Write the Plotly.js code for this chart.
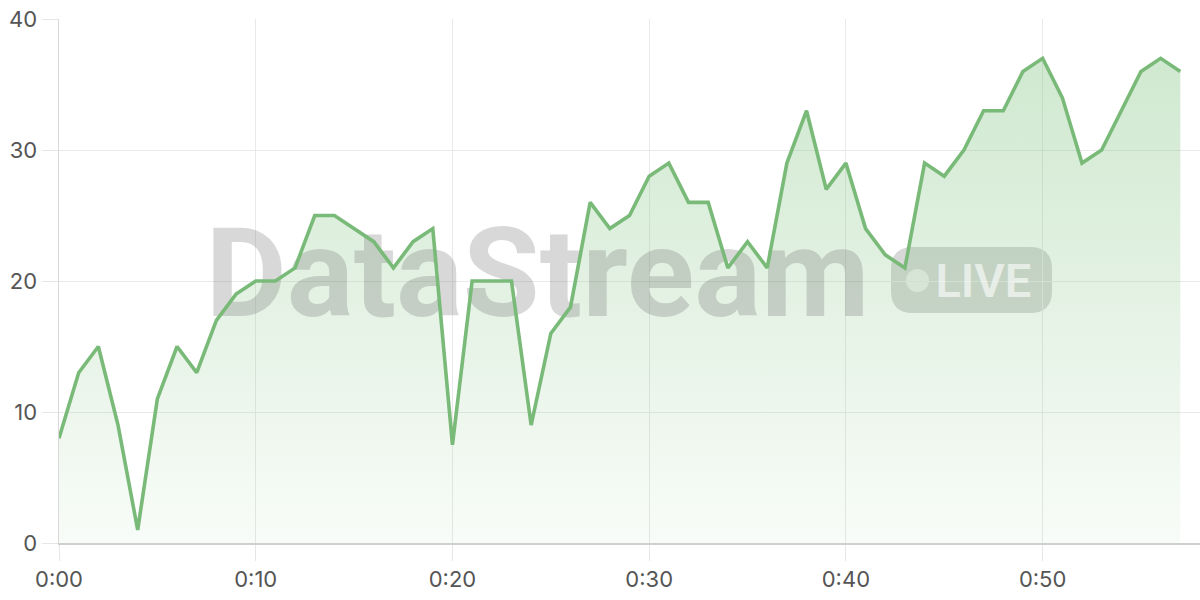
<!DOCTYPE html>
<html><head><meta charset="utf-8">
<script src="https://cdn.plot.ly/plotly-3.0.1.min.js"></script>
<style>html,body{margin:0;padding:0;background:#fff}#chart{width:1200px;height:600px}</style>
</head><body><div id="chart"></div>
<script>
const seconds = [0,1,2,3,4,5,6,7,8,9,10,11,12,13,14,15,16,17,18,19,20,21,22,23,24,25,26,27,28,29,30,31,32,33,34,35,36,37,38,39,40,41,42,43,44,45,46,47,48,49,50,51,52,53,54,55,56,57];
const values = [8,13,15,9,1,11,15,13,17,19,20,20,21,25,25,24,23,21,23,24,7.5,20,20,20,9,16,18,26,24,25,28,29,26,26,21,23,21,29,33,27,29,24,22,21,29,28,30,33,33,36,37,34,29,30,33,36,37,36];
const tickVals = [0,10,20,30,40,50];
const tickText = ["0:00","0:10","0:20","0:30","0:40","0:50"];
const yTicks = [0,10,20,30,40];

// pixel helpers for decoration placement (plot area: x 59..1200, y 19..543)
const PX = p => (p - 59) / 1141;
const PY = p => (543 - p) / 524;
function roundRect(x0, y0, x1, y1, r) {
  const rx = r / 1141, ry = r / 524;
  const a = PX(x0), b = PX(x1), t = PY(y0), u = PY(y1);
  return `M ${a+rx},${t} L ${b-rx},${t} Q ${b},${t} ${b},${t-ry} L ${b},${u+ry} Q ${b},${u} ${b-rx},${u} L ${a+rx},${u} Q ${a},${u} ${a},${u+ry} L ${a},${t-ry} Q ${a},${t} ${a+rx},${t} Z`;
}

const fillTrace = {
  x: seconds, y: values, type: 'scatter', mode: 'none',
  fill: 'tozeroy',
  fillcolor: 'rgba(120,190,120,0.2)',
  fillgradient: {type: 'vertical', colorscale: [[0,'rgba(120,190,120,0.05)'],[1,'rgba(120,190,120,0.35)']]},
  hoverinfo: 'skip'
};
const watermark = {
  x: [7.45], y: [19.75], type: 'scatter', mode: 'text', text: ['DataStream'],
  textposition: 'middle right', cliponaxis: false, hoverinfo: 'skip',
  textfont: {family: 'Roboto, sans-serif', size: 125, weight: 700, color: 'rgba(110,110,110,0.27)'}
};
const liveText = {
  x: [44.55], y: [19.7], type: 'scatter', mode: 'text', text: ['LIVE'],
  textposition: 'middle right', cliponaxis: false, hoverinfo: 'skip',
  textfont: {family: 'Roboto, sans-serif', size: 47, weight: 600, color: 'rgba(255,255,255,0.6)'}
};
const lineTrace = {
  x: seconds, y: values, type: 'scatter', mode: 'lines',
  line: {color: '#7aba79', width: 3.6},
  hoverinfo: 'skip'
};
const layout = {
  width: 1200, height: 600,
  margin: {l: 59, r: 0, t: 19, b: 57},
  paper_bgcolor: '#fff', plot_bgcolor: '#fff',
  showlegend: false,
  font: {family: 'Inter, sans-serif', size: 22, color: '#555'},
  xaxis: {range: [0, 58], tickvals: tickVals, ticktext: tickText, showgrid: true, gridcolor: '#e9e9e9', gridwidth: 1,
    zeroline: false, showline: true, linecolor: '#cfcfcf', linewidth: 1.5,
    ticks: 'outside', ticklen: 16, tickcolor: '#e6e6e6', tickwidth: 1},
  yaxis: {range: [0, 40], tickvals: yTicks, showgrid: true, gridcolor: '#e9e9e9', gridwidth: 1,
    zeroline: false, showline: true, linecolor: '#d8d8d8', linewidth: 1.5,
    ticks: 'outside', ticklen: 16, tickcolor: '#e6e6e6', tickwidth: 1},
  shapes: [
    {type: 'path', xref: 'paper', yref: 'paper', layer: 'below', line: {width: 0},
     fillcolor: 'rgba(110,110,110,0.27)', path: roundRect(891, 247, 1052, 313, 22)},
    {type: 'circle', xref: 'paper', yref: 'paper', layer: 'below', line: {width: 0},
     fillcolor: 'rgba(255,255,255,0.6)',
     x0: PX(906), x1: PX(929), y0: PY(292), y1: PY(269)}
  ]
};
Plotly.newPlot('chart', [fillTrace, watermark, liveText, lineTrace], layout, {displayModeBar: false, staticPlot: true});
</script></body></html>
